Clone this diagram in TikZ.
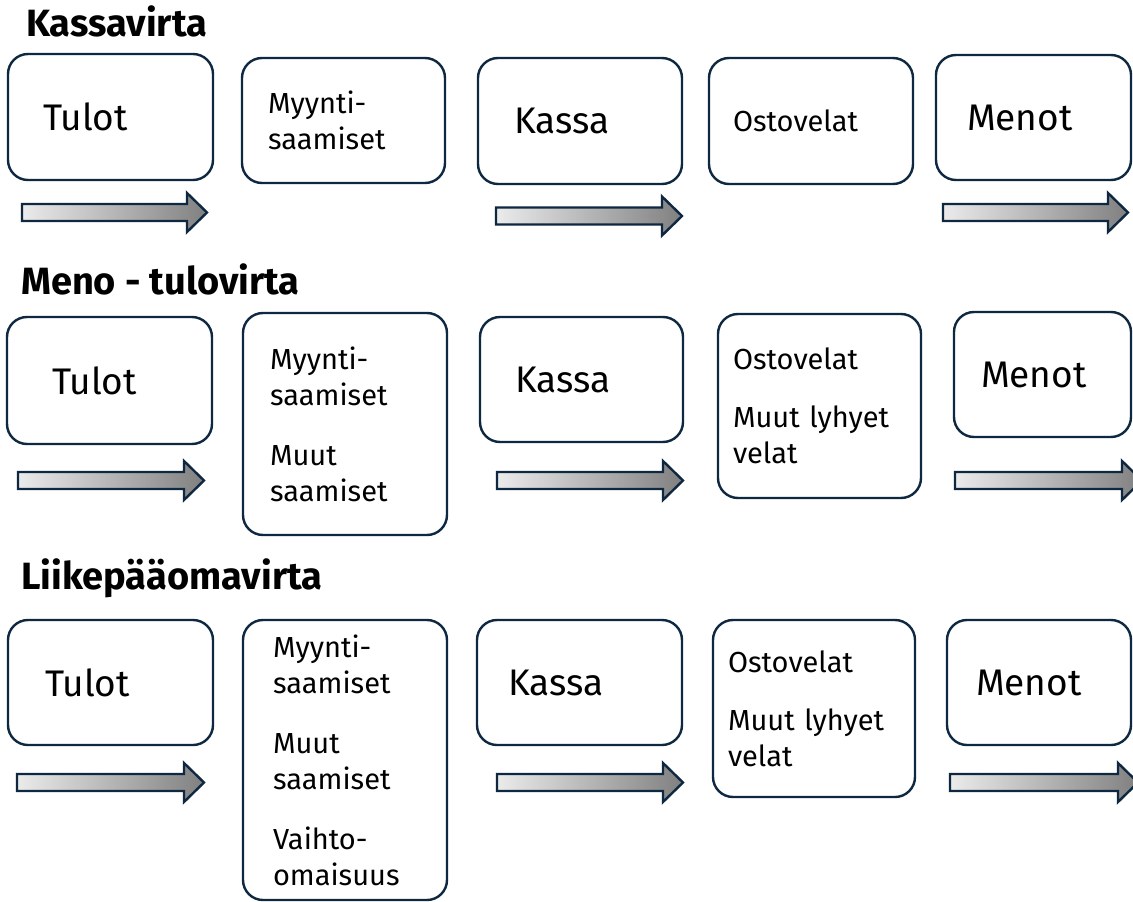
\documentclass[tikz,border=0pt]{standalone}
\usepackage{fontspec}
\setmainfont{Fira Sans}
\usetikzlibrary{positioning}
\definecolor{boxline}{HTML}{0E2841}
\definecolor{arrowlight}{HTML}{EBEBEB}
\definecolor{arrowdark}{HTML}{808080}

% block arrow: tail x, tip x, middle y
\newcommand{\flowarrow}[3]{%
  \draw[flowarrow] (#1,#3-8.5) -- (#2-20,#3-8.5) -- (#2-20,#3-19.5) -- (#2,#3)
    -- (#2-20,#3+19.5) -- (#2-20,#3+8.5) -- (#1,#3+8.5) -- cycle;}

\begin{document}
\begin{tikzpicture}[
    x=1pt, y=-1pt,
    heading/.style={anchor=base west, inner sep=0pt, font=\bfseries\fontsize{38}{44}\selectfont},
    box/.style={rectangle, draw=boxline, line width=2.4pt, rounded corners=20pt, anchor=north west,
        outer sep=0pt, inner ysep=0pt, align=left},
    bigbox/.style={box, font=\fontsize{37}{44}\selectfont},
    smallbox/.style={box, font=\fontsize{29}{36}\selectfont},
    flowarrow/.style={draw=boxline, line width=2.4pt, left color=arrowlight, right color=arrowdark}
]
\clip (0,0) rectangle (1133,902);

% Row 1: Kassavirta
\node[heading] (kassavirta) at (26,36) {Kassavirta};
\node[bigbox, text width=135pt, inner xsep=35pt, minimum height=126pt] (tulotA) at (8,54) {Tulot};
\node[smallbox, text width=151pt, inner xsep=26pt, minimum height=125pt] (myyntiA) at (242,58) {Myynti-\\saamiset};
\node[bigbox, text width=132pt, inner xsep=36pt, minimum height=126pt] (kassaA) at (478,58) {Kassa};
\node[smallbox, text width=156pt, inner xsep=24pt, minimum height=126pt] (ostoA) at (709,58) {Ostovelat};
\node[bigbox, text width=133pt, inner xsep=31pt, minimum height=125pt] (menotA) at (936,55) {Menot};

\flowarrow{22}{207}{212.5}
\flowarrow{496}{682}{216}
\flowarrow{943}{1128}{212.5}

% Row 2: Meno - tulovirta
\node[heading] (menotulovirta) at (21,294) {Meno - tulovirta};
\node[bigbox, text width=115pt, inner xsep=45pt, minimum height=127pt] (tulotB) at (7,317) {Tulot};
\node[smallbox, text width=150pt, inner xsep=27pt, minimum height=222pt] (myyntiB) at (243,313)
    {Myynti-\\saamiset\\[24pt]Muut\\saamiset};
\node[bigbox, text width=133pt, inner xsep=35pt, minimum height=125pt] (kassaB) at (480,317) {Kassa};
\node[smallbox, text width=173pt, inner xsep=15pt, minimum height=184pt] (ostoB) at (718,314)
    {Ostovelat\\[22pt]Muut lyhyet\\velat};
\node[bigbox, text width=123pt, inner xsep=27pt, minimum height=125pt] (menotB) at (954,312) {Menot};

\flowarrow{18}{204}{480.5}
\flowarrow{497}{683}{480.5}
\flowarrow{955}{1142}{480.5}

% Row 3: Liikepääomavirta
\node[heading] (liikepaaomavirta) at (21,589) {Liikepääomavirta};
\node[bigbox, text width=131pt, inner xsep=37pt, minimum height=125pt] (tulotC) at (8,620) {Tulot};
\node[smallbox, text width=144pt, inner xsep=30pt, minimum height=280pt] (myyntiC) at (243,620)
    {Myynti-\\saamiset\\[24pt]Muut\\saamiset\\[24pt]Vaihto-\\omaisuus};
\node[bigbox, text width=143pt, inner xsep=31pt, minimum height=125pt] (kassaC) at (477,620) {Kassa};
\node[smallbox, text width=172pt, inner xsep=15pt, minimum height=177pt] (ostoC) at (713,620)
    {Ostovelat\\[22pt]Muut lyhyet\\velat};
\node[bigbox, text width=126pt, inner xsep=29pt, minimum height=125pt] (menotC) at (947,620) {Menot};

\flowarrow{17}{204}{782.5}
\flowarrow{497}{683}{782.5}
\flowarrow{950}{1138}{782.5}

\end{tikzpicture}
\end{document}
